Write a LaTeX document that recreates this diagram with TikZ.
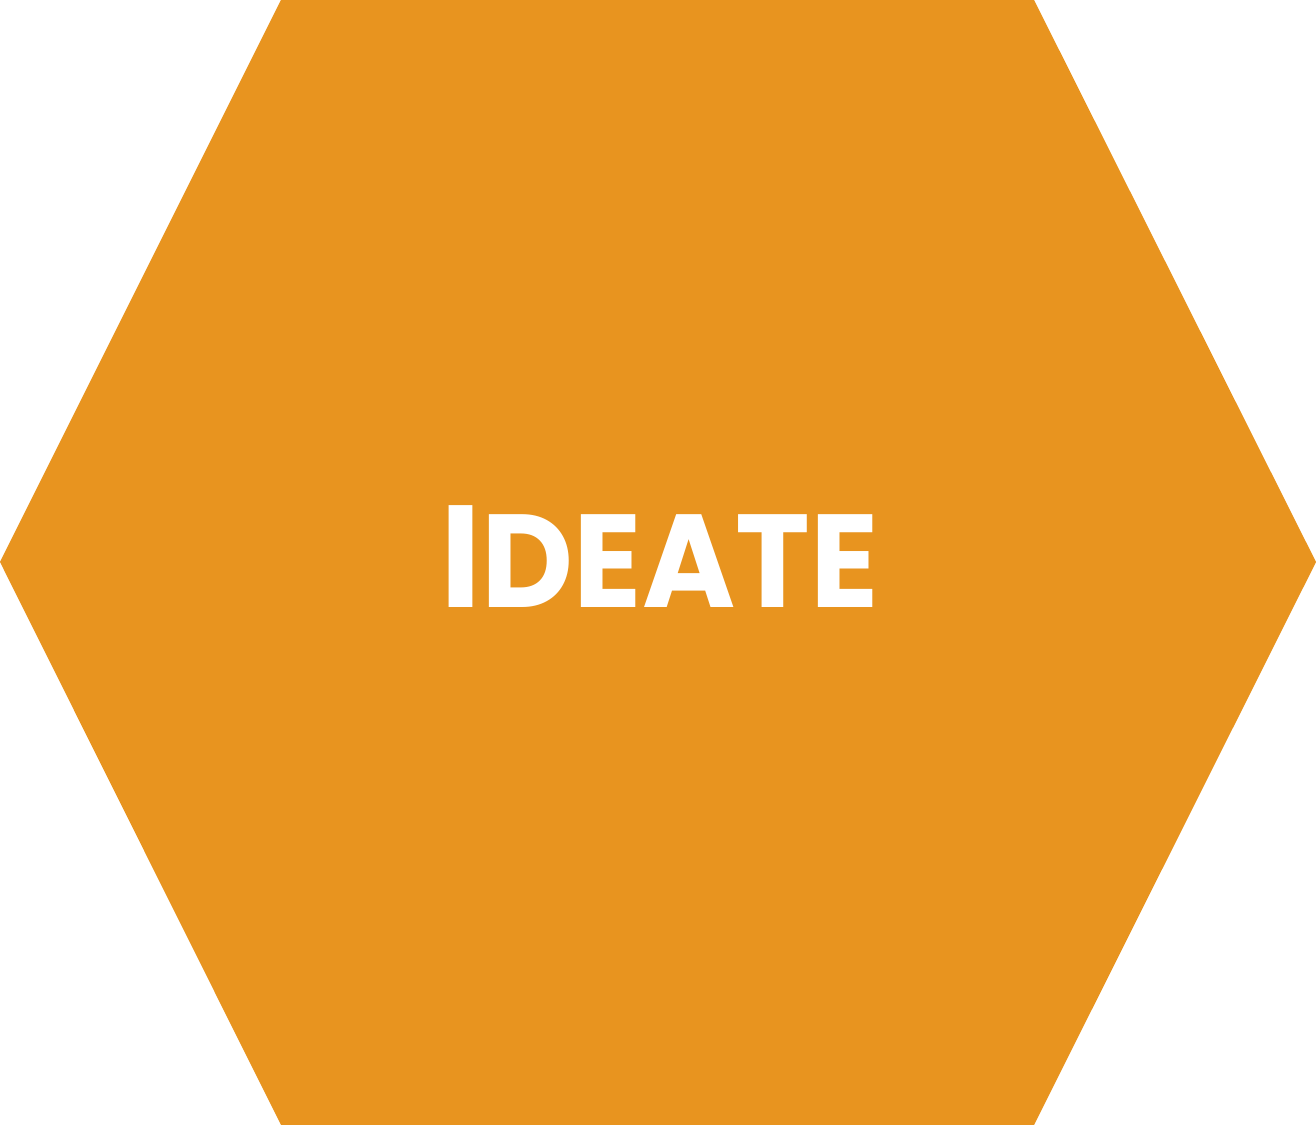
\documentclass[tikz,border=0pt]{standalone}
\usepackage{xcolor}
\usepackage{fontspec}
\setmainfont{Poppins}
\usetikzlibrary{positioning}
\definecolor{ideateorange}{HTML}{E8941F}

\begin{document}
\begin{tikzpicture}[x=0.01cm, y=0.01cm]
\tikzstyle{hexagon} = [fill=ideateorange, draw=none]
\tikzstyle{label} = [text=white, inner sep=0pt, anchor=base, font=\fontsize{36}{36}\selectfont\bfseries]

\useasboundingbox (0,0) rectangle (1316,1125);
\fill [hexagon] (281,1125) -- (1034,1125) -- (1316,563) -- (1034,0) -- (281,0) -- (0,563) -- cycle;

\node (title) [label] at (660,517) {\scalebox{1}[1.045]{{\fontsize{39.5}{39.5}\selectfont I}DEATE}};
\end{tikzpicture}
\end{document}
